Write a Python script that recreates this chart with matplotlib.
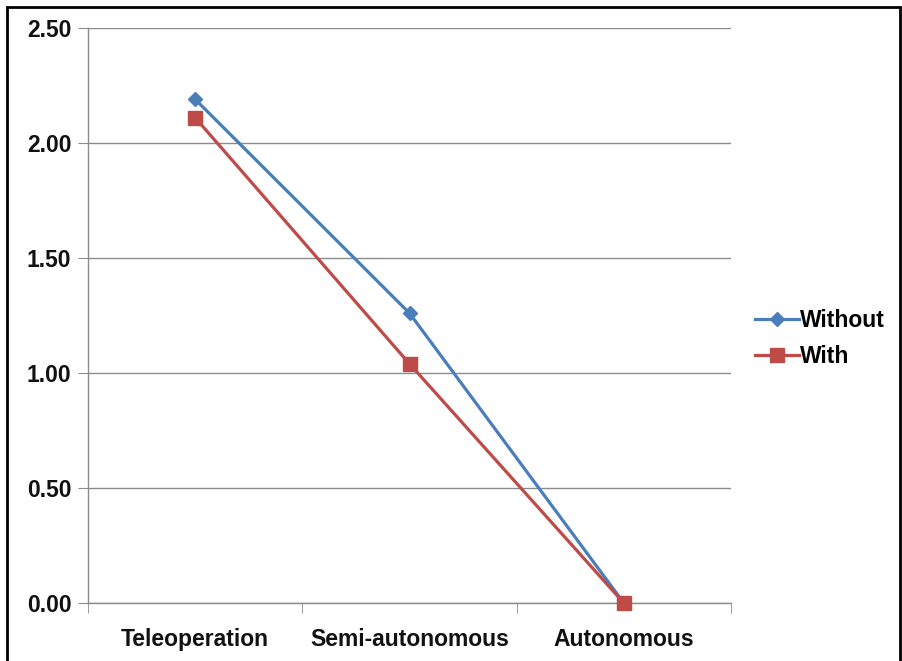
import numpy as np
import matplotlib.pyplot as plt
from matplotlib.patches import Rectangle

# datos
categorias = ["Teleoperation", "Semi-autonomous", "Autonomous"]
sin_valores = [2.19, 1.26, 0.00]
con_valores = [2.11, 1.04, 0.00]

azul = "#4A7EBB"
rojo = "#BE4B48"
gris = "#8C8C8C"

plt.rcParams['font.family'] = ['Liberation Sans', 'DejaVu Sans']

fig = plt.figure(figsize=(9.02, 6.61), dpi=100)
ax = fig.add_axes([88/902, 1-603/661, (731-88)/902, (603-28)/661])

x = np.arange(len(categorias))
ax.plot(x, sin_valores, "-D", color=azul, lw=2.3, markersize=7, label="Without", clip_on=False, zorder=3)
ax.plot(x, con_valores, "-s", color=rojo, lw=2.3, markersize=9.5, label="With", clip_on=False, zorder=4)

ax.set_xlim(-0.5, 2.5)
ax.set_ylim(0, 2.5)
ax.set_yticks(np.arange(0, 2.51, 0.5))
ax.set_yticklabels([f"{v:.2f}" for v in np.arange(0, 2.51, 0.5)])
ax.set_xticks(x)
ax.set_xticklabels(categorias)
ax.set_xticks([-0.5, 0.5, 1.5, 2.5], minor=True)

ax.grid(axis="y", color=gris, lw=1)
ax.set_axisbelow(True)
for s in ["top", "right"]:
    ax.spines[s].set_visible(False)
for s in ["left", "bottom"]:
    ax.spines[s].set_color(gris)
    ax.spines[s].set_linewidth(1)

ax.tick_params(axis="x", which="major", length=0, pad=18, labelsize=16.5)
ax.tick_params(axis="x", which="minor", length=7, color=gris, direction="out")
ax.tick_params(axis="y", length=7, color=gris, pad=5, labelsize=16.5)
for lab in ax.get_xticklabels() + ax.get_yticklabels():
    lab.set_fontweight("bold")
    lab.set_color("#111111")

leg = ax.legend(loc="center left", bbox_to_anchor=(1.02, 0.46), frameon=False,
                prop={"size": 16.5, "weight": "bold"}, handlelength=1.9,
                handletextpad=0.05, labelspacing=0.6, borderpad=0)

# marco exterior
fig.patches.append(Rectangle((7/902, -0.05), (900-7)/902, 1.05-7/661, transform=fig.transFigure,
                             fill=False, edgecolor="black", lw=2))

plt.savefig("out.png", dpi=100)
